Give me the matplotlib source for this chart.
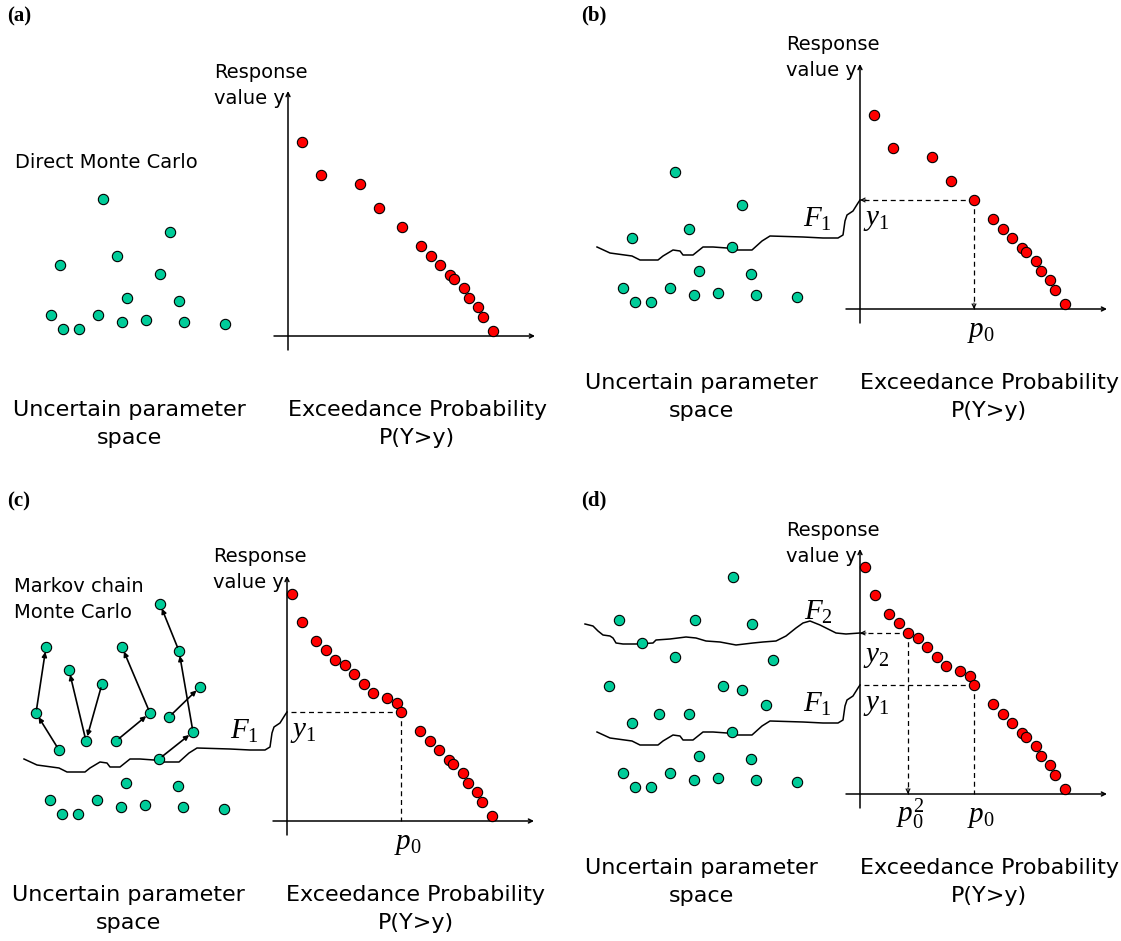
import matplotlib
matplotlib.use("Agg")
import matplotlib.pyplot as plt
from matplotlib.transforms import Affine2D

plt.rcParams['font.family'] = ['DejaVu Sans']
plt.rcParams['mathtext.fontset'] = 'custom'
plt.rcParams['mathtext.it'] = 'Liberation Serif:italic'
plt.rcParams['mathtext.rm'] = 'Liberation Serif'

# Direct Monte Carlo samples in the parameter space (relative to the response-axis origin)
param_x = [-185, -118, -171, -228, -128, -161, -109, -237, -190, -225, -209, -166, -142, -104, -63]
param_y = [137, 104, 80, 71, 62, 38, 35, 21, 21, 7, 7, 14, 16, 14, 12]

# Markov chains started from the samples above F1 (first entry = seed)
chains_x = [[-228, -251, -241],
            [-185, -201, -218],
            [-171, -137, -165],
            [-118, -87],
            [-128, -94, -108, -127]]
chains_y = [[71, 108, 174],
            [137, 80, 151],
            [80, 108, 174],
            [104, 134],
            [62, 89, 170, 217]]

# ranked responses vs exceedance probability
direct_p = [14, 33, 72, 91, 114, 133, 143, 152, 162, 166, 176, 181, 190, 195, 205]
direct_y = [194, 161, 152, 128, 109, 90, 80, 71, 61, 57, 48, 38, 29, 19, 5]
cond_p = [5, 15, 29, 39, 48, 58, 67, 77, 86, 100, 110]
cond_y = [227, 199, 180, 171, 161, 156, 147, 137, 128, 123, 118]
i_level1 = 4   # sample giving y1 / p0
i_level2 = 4   # conditional sample giving y2 / p0^2

# intermediate failure boundaries
f1_x = [-263, -250, -228, -220, -202, -197, -187, -180, -177, -167, -157, -147, -133,
        -123, -108, -98, -90, -57, -37, -22, -17, -15, -13, -7, -2, 0]
f1_y = [62, 56, 53, 49, 49, 53, 59, 58, 54, 54, 62, 62, 61, 59, 59, 68, 73, 72, 71,
        71, 74, 88, 94, 98, 106, 109]
f2_x = [-275, -267, -262, -257, -250, -247, -244, -237, -224, -207, -204, -190, -174,
        -164, -154, -140, -124, -107, -97, -84, -74, -64, -57, -50, -40, -30, -24, -14, 0]
f2_y = [170, 168, 163, 159, 158, 156, 151, 150, 150, 151, 154, 155, 157, 156, 153, 152,
        149, 151, 152, 153, 158, 166, 171, 173, 169, 164, 161, 160, 161]

GREEN = '#00CC99'
RED = '#FF0000'
W, H = 1121, 941

fig = plt.figure(figsize=(W / 100, H / 100), dpi=100)
ax = fig.add_axes([0, 0, 1, 1])
ax.set_xlim(0, W)
ax.set_ylim(H, 0)
ax.axis('off')


def small_head(tr, end, start):
    ax.annotate('', xy=end, xytext=start, xycoords=tr, textcoords=tr,
                arrowprops=dict(arrowstyle='->', lw=0.8, color='k',
                                mutation_scale=7, shrinkA=0, shrinkB=0))


def dashed(tr, pts, head=False):
    xs, ys = zip(*pts)
    ax.plot(xs, ys, ls=(0, (4, 3)), lw=0.9, color='k', transform=tr, zorder=1)
    if head:
        (x0, y0), (x1, y1) = pts[-2], pts[-1]
        dx, dy = x0 - x1, y0 - y1
        n = (dx ** 2 + dy ** 2) ** 0.5
        small_head(tr, (x1, y1), (x1 + 6 * dx / n, y1 + 6 * dy / n))


def draw_panel(ox, oy, label, label_xy, mcmc=False, level1=False, level2=False,
               arrows=False, note=None):
    tr = Affine2D().scale(1, -1).translate(ox, oy) + ax.transData

    # axes of the response plot
    ax.annotate('', xy=(0, 245), xytext=(0, -14), xycoords=tr, textcoords=tr,
                arrowprops=dict(arrowstyle='->', lw=1.1, color='k',
                                mutation_scale=7, shrinkA=0, shrinkB=0))
    ax.annotate('', xy=(247, 0), xytext=(-14, 0), xycoords=tr, textcoords=tr,
                arrowprops=dict(arrowstyle='->', lw=1.1, color='k',
                                mutation_scale=7, shrinkA=0, shrinkB=0))

    # parameter-space samples
    if mcmc:
        px = param_x[:]
        py = param_y[:]
        for cx, cy in zip(chains_x, chains_y):
            px += cx[1:]
            py += cy[1:]
    else:
        px, py = param_x, param_y
    ax.scatter(px, py, s=55, c=GREEN, edgecolors='k', linewidths=0.8,
               transform=tr, zorder=3)

    if arrows:
        for cx, cy in zip(chains_x, chains_y):
            for k in range(len(cx) - 1):
                ax.annotate('', xy=(cx[k + 1], cy[k + 1]), xytext=(cx[k], cy[k]),
                            xycoords=tr, textcoords=tr,
                            arrowprops=dict(arrowstyle='-|>', lw=1.2, color='k',
                                            mutation_scale=7, shrinkA=3, shrinkB=3.5),
                            zorder=4)

    # ranked responses
    if mcmc:
        rp = cond_p + direct_p[i_level1:]
        ry = cond_y + direct_y[i_level1:]
    else:
        rp, ry = direct_p, direct_y
    ax.scatter(rp, ry, s=55, c=RED, edgecolors='k', linewidths=0.8,
               transform=tr, zorder=3)

    if level1:
        p0, y1 = direct_p[i_level1], direct_y[i_level1]
        with_head = not arrows and not level2
        dashed(tr, [(p0, y1), (0, y1)], head=with_head)
        dashed(tr, [(p0, y1), (p0, 0)], head=with_head)
        ax.plot(f1_x, f1_y, color='k', lw=1.1, transform=tr, zorder=2)
        ax.text(-43, 90, r'$F_1$', fontsize=21, ha='center', va='center', transform=tr)
        ax.text(3, 104, r'$y_1$', fontsize=21, ha='left', va='top', transform=tr)
        ax.text(p0 - 7, -28, r'$p_0$', fontsize=21, ha='left', va='baseline', transform=tr)
    if level2:
        p2, y2 = cond_p[i_level2], cond_y[i_level2]
        dashed(tr, [(p2, y2), (0, y2)], head=True)
        dashed(tr, [(p2, y2), (p2, 0)], head=True)
        ax.plot(f2_x, f2_y, color='k', lw=1.1, transform=tr, zorder=2)
        ax.text(-42, 182, r'$F_2$', fontsize=21, ha='center', va='center', transform=tr)
        ax.text(3, 152, r'$y_2$', fontsize=21, ha='left', va='top', transform=tr)
        ax.text(p2 - 12, -28, r'$p_0^2$', fontsize=21, ha='left', va='baseline', transform=tr)

    # axis captions
    ax.text(-74, 264, 'Response', fontsize=14, ha='left', va='center', transform=tr)
    ax.text(-74, 238, 'value y', fontsize=14, ha='left', va='center', transform=tr)
    ax.text(-159, -74, 'Uncertain parameter', fontsize=16, ha='center', va='center', transform=tr)
    ax.text(-159, -102, 'space', fontsize=16, ha='center', va='center', transform=tr)
    ax.text(129, -74, 'Exceedance Probability', fontsize=16, ha='center', va='center', transform=tr)
    ax.text(129, -102, 'P(Y>y)', fontsize=16, ha='center', va='center', transform=tr)

    if note:
        top = 234 if mcmc else 173
        for k, line in enumerate(note):
            ax.text(-273, top - 25 * k, line, fontsize=14, ha='left', va='center',
                    transform=tr)

    ax.text(label_xy[0], label_xy[1], label, fontsize=15, fontweight='bold',
            family='Liberation Serif', ha='left', va='center')


draw_panel(288, 336, '(a)', (7, 16), note=['Direct Monte Carlo'])
draw_panel(860, 309, '(b)', (581, 15), level1=True)
draw_panel(287, 821, '(c)', (7, 501), mcmc=True, level1=True, arrows=True,
           note=['Markov chain', 'Monte Carlo'])
draw_panel(860, 794, '(d)', (581, 500), mcmc=True, level1=True, level2=True)

fig.savefig('out.png', dpi=100)
